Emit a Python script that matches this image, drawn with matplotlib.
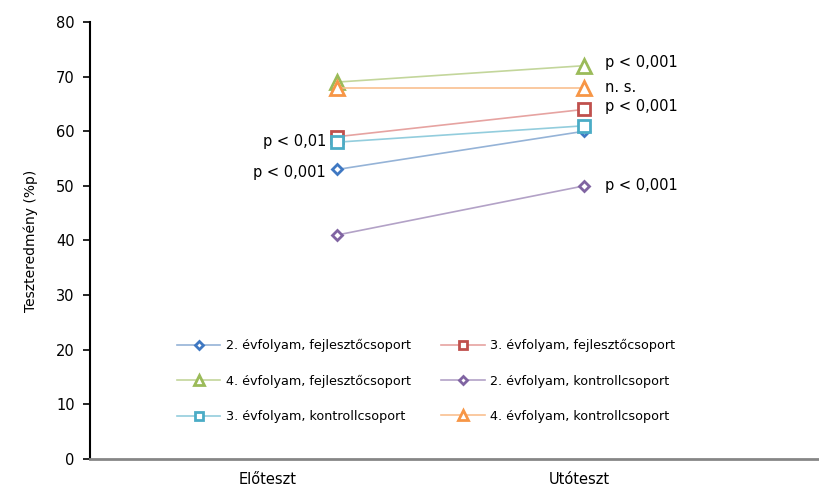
import matplotlib
matplotlib.use('Agg')
import matplotlib.pyplot as plt

plt.rcParams['font.family'] = ['DejaVu Sans']

# adatok
kategoriak = ['Előteszt', 'Utóteszt']
sorozatok = ['2. évfolyam, fejlesztőcsoport', '3. évfolyam, fejlesztőcsoport',
             '4. évfolyam, fejlesztőcsoport', '2. évfolyam, kontrollcsoport',
             '3. évfolyam, kontrollcsoport', '4. évfolyam, kontrollcsoport']
eloteszt = [53, 59, 69, 41, 58, 68]
utoteszt = [60, 64, 72, 50, 61, 68]

# szignifikancia feliratok (jobb oldal: utóteszt, bal oldal: előteszt)
jobb_feliratok = ['p < 0,001', 'n. s.', 'p < 0,001', 'p < 0,001']
jobb_ertekek = [72.5, 68.1, 64.6, 50]
bal_feliratok = ['p < 0,01', 'p < 0,001']
bal_ertekek = [58.2, 52.5]

vonal_szinek = ['#95B3D7', '#E6A3A1', '#C3D69B', '#B3A2C7', '#93CDDD', '#FAC090']
jelolo_szinek = ['#3F78C2', '#C0504D', '#9BBB59', '#8064A2', '#4BACC6', '#F79646']
jelolok = ['D', 's', '^', 'D', 's', '^']
meretek = [5.5, 8.5, 10, 5.5, 8.5, 10]

fig = plt.figure(figsize=(8.2, 4.9), dpi=100)
ax = fig.add_axes([90 / 820, 31 / 490, 730 / 820, 437 / 490])

x = [0, 1]
vonalak = []
for i in range(len(sorozatok)):
    l, = ax.plot(x, [eloteszt[i], utoteszt[i]], color=vonal_szinek[i], lw=1.2,
                 marker=jelolok[i], ms=meretek[i], mec=jelolo_szinek[i], mfc='white',
                 mew=2, label=sorozatok[i])
    vonalak.append(l)

for szoveg, ertek in zip(jobb_feliratok, jobb_ertekek):
    ax.annotate(szoveg, xy=(1, ertek), xytext=(15, 0), textcoords='offset points',
                ha='left', va='center', fontsize=10.5)
for szoveg, ertek in zip(bal_feliratok, bal_ertekek):
    ax.annotate(szoveg, xy=(0, ertek), xytext=(-8, 0), textcoords='offset points',
                ha='right', va='center', fontsize=10.5)

ax.set_xlim(-1.0, 1.955)
ax.set_ylim(0, 80)
ax.set_yticks(range(0, 81, 10))
ax.set_xticks([-0.28, 0.98])
ax.set_xticklabels(kategoriak, fontsize=10.5)
ax.tick_params(axis='x', length=0, pad=9)
ax.tick_params(axis='y', direction='out', length=5, width=1.2, labelsize=10.5, pad=6)
ax.set_ylabel('Teszteredmény (%p)', fontsize=10, labelpad=13)

for s in ['top', 'right']:
    ax.spines[s].set_visible(False)
ax.spines['left'].set_linewidth(1.5)
ax.spines['bottom'].set_color('#868686')
ax.spines['bottom'].set_linewidth(2)

# soronként töltse ki a jelmagyarázatot
sorrend = [0, 2, 4, 1, 3, 5]
leg = ax.legend([vonalak[i] for i in sorrend], [sorozatok[i] for i in sorrend],
                loc='upper left', bbox_to_anchor=(177 / 820, 1 - 339 / 490),
                bbox_transform=fig.transFigure, ncol=2, frameon=False, fontsize=9.2,
                borderpad=0, borderaxespad=0, handlelength=3.4, handletextpad=0.4,
                columnspacing=2.4, labelspacing=1.75, markerscale=0.75)

fig.savefig('out.png', dpi=100)
plt.close(fig)
